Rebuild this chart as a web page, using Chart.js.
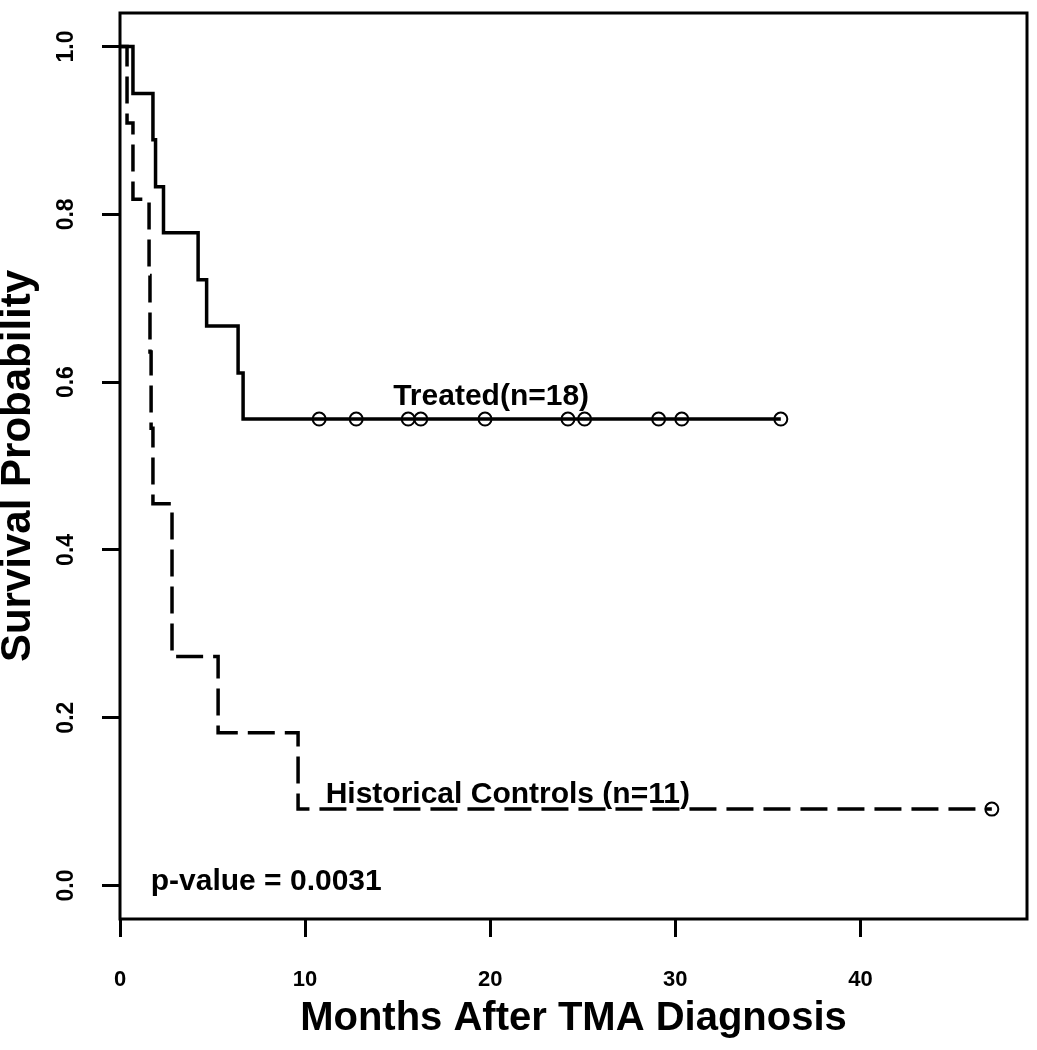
<!DOCTYPE html>
<html>
<head>
<meta charset="utf-8">
<title>Survival after TMA diagnosis</title>
<script src="https://cdn.jsdelivr.net/npm/chart.js@4.4.0/dist/chart.umd.min.js"></script>
<style>
	html, body { margin: 0; padding: 0; background: #fff; }
	canvas { display: block; }
</style>
</head>
<body>
<canvas id="km" width="1037" height="1050"></canvas>
<script>
// Kaplan-Meier steps (months, survival)
const treatedTimes = [0, 0.70, 1.78, 1.92, 2.35, 4.22, 4.68, 6.38, 6.65, 35.7];
const treatedSurv = [1.0, 0.944, 0.889, 0.833, 0.778, 0.722, 0.667, 0.611, 0.556, 0.556];
const treatedCensorTimes = [10.76, 12.76, 15.57, 16.25, 19.72, 24.2, 25.1, 29.1, 30.35, 35.7];
const treatedCensorSurv = [0.556, 0.556, 0.556, 0.556, 0.556, 0.556, 0.556, 0.556, 0.556, 0.556];

const controlTimes = [0, 0.38, 0.70, 1.57, 1.62, 1.68, 1.78, 2.81, 5.30, 9.62, 47.1];
const controlSurv = [1.0, 0.909, 0.818, 0.727, 0.636, 0.545, 0.455, 0.273, 0.182, 0.091, 0.091];
const controlCensorTimes = [47.1];
const controlCensorSurv = [0.091];

const xTickValues = [0, 10, 20, 30, 40];
const xTickLabels = ['0', '10', '20', '30', '40'];
const yTickValues = [0, 0.2, 0.4, 0.6, 0.8, 1.0];
const yTickLabels = ['0.0', '0.2', '0.4', '0.6', '0.8', '1.0'];

const noteTexts = ['Treated(n=18)', 'Historical Controls (n=11)', 'p-value = 0.0031'];
const noteX = [20.05, 20.95, 7.9];
const noteY = [0.583, 0.108, 0.005];

const FONT = '"Liberation Sans", Arial, Helvetica, sans-serif';

const toPoints = (xs, ys) => xs.map((t, i) => ({ x: t, y: ys[i] }));

// box around the plot region + free text labels (R style)
const frameAndNotes = {
	id: 'frameAndNotes',
	afterDatasetsDraw(chart) {
		const { ctx, chartArea: { left, top, right, bottom }, scales: { x, y } } = chart;
		ctx.save();
		ctx.strokeStyle = '#000';
		ctx.lineWidth = 3;
		ctx.strokeRect(left, top, right - left, bottom - top);

		ctx.font = `bold 30px ${FONT}`;
		ctx.fillStyle = '#000';
		ctx.textAlign = 'center';
		ctx.textBaseline = 'middle';
		noteTexts.forEach((t, i) => {
			ctx.fillText(t, x.getPixelForValue(noteX[i]), y.getPixelForValue(noteY[i]));
		});
		ctx.restore();
	}
};

// keep the plot box where the figure has it: no extra room for overhanging labels
const fixBox = (scale, prop, size) => {
	scale[prop] = size;
	scale.paddingTop = 0;
	scale.paddingBottom = 0;
	scale.paddingLeft = 0;
	scale.paddingRight = 0;
};

const censorStyle = {
	showLine: false,
	pointStyle: 'circle',
	pointRadius: 6.5,
	pointBorderWidth: 2,
	pointBackgroundColor: 'rgba(0,0,0,0)',
	pointBorderColor: '#000'
};

new Chart(document.getElementById('km').getContext('2d'), {
	type: 'scatter',
	data: {
		datasets: [
			{
				label: 'Treated',
				data: toPoints(treatedTimes, treatedSurv),
				showLine: true,
				stepped: 'before',
				borderColor: '#000',
				borderWidth: 3.5,
				pointRadius: 0
			},
			{
				label: 'Historical Controls',
				data: toPoints(controlTimes, controlSurv),
				showLine: true,
				stepped: 'before',
				borderColor: '#000',
				borderWidth: 3.5,
				borderDash: [27, 10],
				pointRadius: 0
			},
			Object.assign({ label: 'Treated censored', data: toPoints(treatedCensorTimes, treatedCensorSurv) }, censorStyle),
			Object.assign({ label: 'Controls censored', data: toPoints(controlCensorTimes, controlCensorSurv) }, censorStyle)
		]
	},
	options: {
		responsive: false,
		animation: false,
		events: [],
		layout: {
			padding: { left: 0, right: 10, top: 13, bottom: 0 }
		},
		scales: {
			x: {
				type: 'linear',
				min: 0,
				max: 49,
				afterFit: scale => fixBox(scale, 'height', 131),
				afterBuildTicks: scale => { scale.ticks = xTickValues.map(v => ({ value: v })); },
				border: { display: false },
				grid: {
					drawOnChartArea: false,
					drawTicks: true,
					tickLength: 18,
					lineWidth: 3,
					tickWidth: 3,
					color: '#000',
					tickColor: '#000'
				},
				ticks: {
					autoSkip: false,
					maxRotation: 0,
					padding: 30,
					color: '#000',
					font: { family: FONT, size: 22, weight: 'bold' },
					callback: v => xTickLabels[xTickValues.indexOf(v)]
				},
				title: {
					display: true,
					text: 'Months After TMA Diagnosis',
					color: '#000',
					font: { family: FONT, size: 40, weight: 'bold', lineHeight: 1 },
					padding: { top: 0, bottom: 11 }
				}
			},
			y: {
				type: 'linear',
				min: -0.04,
				max: 1.04,
				afterFit: scale => fixBox(scale, 'width', 120),
				afterBuildTicks: scale => { scale.ticks = yTickValues.map(v => ({ value: v })); },
				border: { display: false },
				grid: {
					drawOnChartArea: false,
					drawTicks: true,
					tickLength: 18,
					lineWidth: 3,
					tickWidth: 3,
					color: '#000',
					tickColor: '#000'
				},
				ticks: {
					minRotation: 90,
					maxRotation: 90,
					crossAlign: 'center',
					padding: 19,
					color: '#000',
					font: { family: FONT, size: 23, weight: 'bold' },
					callback: v => yTickLabels[yTickValues.indexOf(v)]
				},
				title: {
					display: true,
					text: 'Survival Probability',
					color: '#000',
					font: { family: FONT, size: 42, weight: 'bold', lineHeight: 1 },
					padding: { top: -3, bottom: 0 }
				}
			}
		},
		plugins: {
			legend: { display: false },
			tooltip: { enabled: false }
		}
	},
	plugins: [frameAndNotes]
});
</script>
</body>
</html>
